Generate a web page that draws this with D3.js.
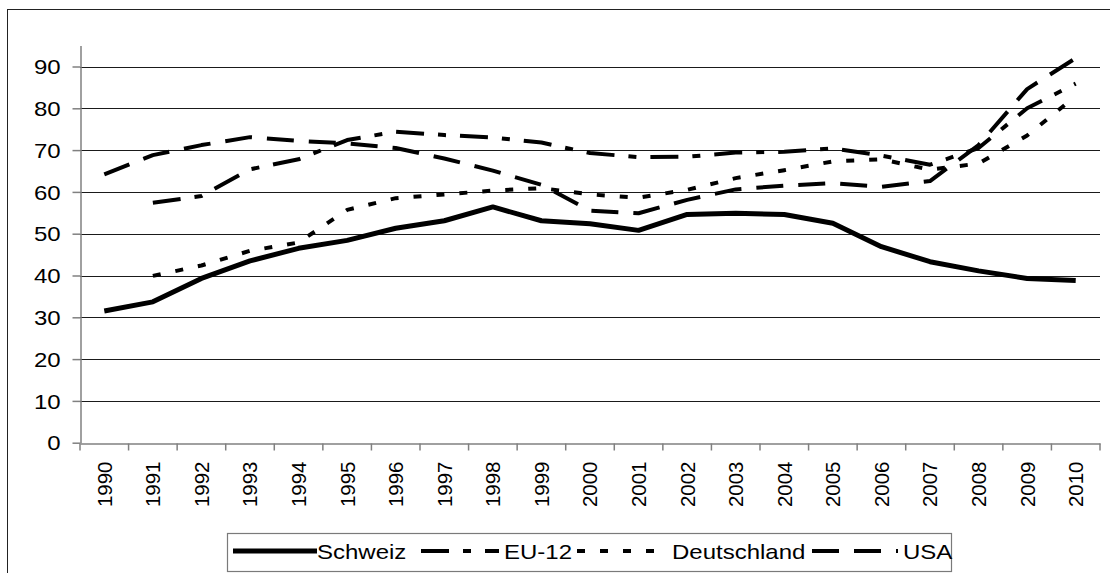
<!DOCTYPE html>
<html>
<head>
<meta charset="utf-8">
<script src="https://cdn.jsdelivr.net/npm/d3@7"></script>
<style>
  html, body { margin: 0; padding: 0; background: #fff; }
  svg { display: block; font-family: "Liberation Sans", Arial, sans-serif; }
</style>
</head>
<body>
<svg id="chart" width="1110" height="573"></svg>
<script>
const years = ["1990","1991","1992","1993","1994","1995","1996","1997","1998","1999","2000",
               "2001","2002","2003","2004","2005","2006","2007","2008","2009","2010"];
const schweiz = [31.5, 33.7, 39.3, 43.5, 46.5, 48.4, 51.3, 53.1, 56.4, 53.1, 52.4,
                 50.8, 54.6, 54.9, 54.6, 52.5, 46.9, 43.3, 41.1, 39.3, 38.8];
const eu12 = [null, 57.4, 59.0, 65.4, 67.8, 72.4, 74.4, 73.6, 73.0, 71.8, 69.3,
              68.3, 68.4, 69.4, 69.6, 70.4, 68.7, 66.5, 70.5, 80.0, 85.9];
const deutschland = [null, 39.9, 42.4, 45.9, 47.9, 55.7, 58.5, 59.4, 60.3, 60.9, 59.4,
                     58.6, 60.5, 63.3, 65.2, 67.3, 67.8, 65.3, 66.8, 73.5, 82.9];
const usa = [64.2, 68.8, 71.2, 73.1, 72.2, 71.6, 70.5, 68.0, 65.1, 61.7, 55.5,
             54.9, 58.1, 60.6, 61.5, 62.1, 61.2, 62.6, 71.2, 84.6, 92.0];
const seriesNames = ["Schweiz", "EU-12", "Deutschland", "USA"];
const yTicks = [0, 10, 20, 30, 40, 50, 60, 70, 80, 90];

const seriesValues = [schweiz, eu12, deutschland, usa];
const styles = [
  { width: 5, dash: null },
  { width: 4, dash: "28,14,8,14" },
  { width: 4, dash: "8,15" },
  { width: 4, dash: "27,15" }
];

const svg = d3.select("#chart");

// outer frame
svg.append("rect").attr("x", 7.5).attr("y", 9.5).attr("width", 1300).attr("height", 700)
  .attr("fill", "none").attr("stroke", "#222").attr("stroke-width", 1);

const x = d3.scaleBand().domain(years).range([80, 1100]).padding(0);
const y = d3.scaleLinear().domain([0, 95]).range([442.7, 45.6]);

// gridlines
svg.append("g").selectAll("line").data(yTicks.filter(t => t > 0)).join("line")
  .attr("x1", 80).attr("x2", 1100)
  .attr("y1", d => Math.round(y(d)) + 0.5).attr("y2", d => Math.round(y(d)) + 0.5)
  .attr("stroke", "#1a1a1a").attr("stroke-width", 1);

// y axis
const yAxis = svg.append("g").attr("transform", "translate(80.5,0)")
  .call(d3.axisLeft(y).tickValues(yTicks).tickSize(8).tickSizeOuter(0));
yAxis.select(".domain").attr("stroke", "#808080").attr("stroke-width", 1.5);
yAxis.selectAll(".tick line").attr("stroke", "#808080").attr("stroke-width", 1.5);
yAxis.selectAll(".tick text")
  .attr("font-size", 20).attr("fill", "#000")
  .attr("font-family", "'Liberation Sans', Arial, sans-serif")
  .attr("x", -16.5).attr("dy", "0.36em")
  .attr("transform", "scale(1.2,1)");

// x axis
const xAxis = svg.append("g").attr("transform", `translate(0,${Math.round(y(0)) + 0.5})`)
  .call(d3.axisBottom(x).tickSize(0).tickSizeOuter(0));
xAxis.select(".domain").attr("stroke", "#808080").attr("stroke-width", 1.5);
// ticks at band boundaries
const boundaries = years.map(d => x(d)).concat([x.range()[1]]);
xAxis.append("g").selectAll("line").data(boundaries).join("line")
  .attr("x1", d => d).attr("x2", d => d).attr("y1", 0).attr("y2", 7)
  .attr("stroke", "#808080").attr("stroke-width", 1.5);
xAxis.selectAll(".tick text")
  .attr("font-size", 20.5).attr("fill", "#000")
  .attr("font-family", "'Liberation Sans', Arial, sans-serif")
  .attr("text-anchor", "end")
  .attr("transform", "translate(0,18) rotate(-90)")
  .attr("x", 0).attr("y", 0).attr("dy", "0.36em");

// lines
const line = d3.line()
  .defined(d => d.v != null)
  .x(d => x(d.year) + x.bandwidth() / 2)
  .y(d => y(d.v));

seriesValues.forEach((vals, i) => {
  const data = years.map((yr, j) => ({ year: yr, v: vals[j] }));
  svg.append("path").datum(data)
    .attr("d", line)
    .attr("fill", "none")
    .attr("stroke", "#000")
    .attr("stroke-width", styles[i].width)
    .attr("stroke-linejoin", "round")
    .attr("stroke-dasharray", styles[i].dash);
});

// legend
svg.append("rect").attr("x", 227.5).attr("y", 533.5).attr("width", 724).attr("height", 38)
  .attr("fill", "#fff").attr("stroke", "#7a7a7a").attr("stroke-width", 1.2);
const legendSampleX = [233, 421, 577, 812];
const legendSampleLen = [84, 78, 92, 86];
const legendTextX = [317, 504, 672, 903];
seriesNames.forEach((name, i) => {
  svg.append("line")
    .attr("x1", legendSampleX[i]).attr("x2", legendSampleX[i] + legendSampleLen[i])
    .attr("y1", 551).attr("y2", 551)
    .attr("stroke", "#000").attr("stroke-width", styles[i].width)
    .attr("stroke-dasharray", styles[i].dash);
  svg.append("text")
    .attr("transform", `translate(${legendTextX[i]},559) scale(1.2,1)`)
    .attr("font-size", 20).attr("fill", "#000")
    .text(name);
});
</script>
</body>
</html>
